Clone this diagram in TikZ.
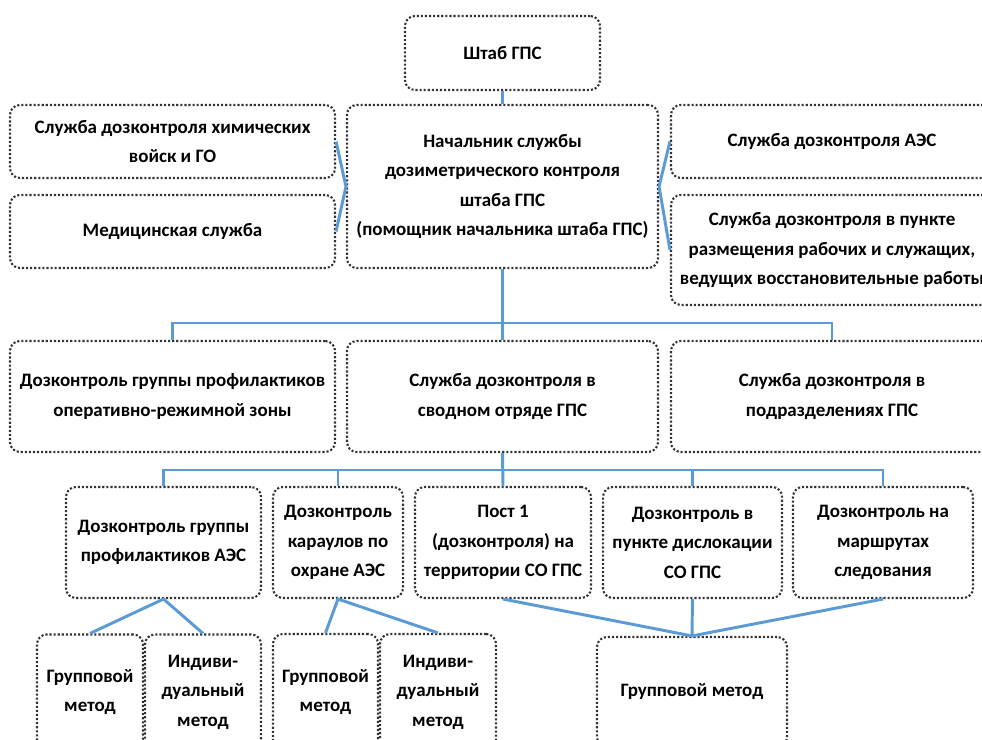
\documentclass[tikz,border=0pt]{standalone}
\usepackage{fontspec}
\setmainfont{Carlito}
\usepackage{tikz}
\usetikzlibrary{positioning}
\definecolor{linkblue}{HTML}{5B9BD5}
\colorlet{dotgray}{black!80}

\tikzset{
  box/.style={draw=dotgray, line width=1.5pt, dash pattern=on 1.5pt off 1.4pt,
    rounded corners=7pt, align=center, inner sep=0pt,
    font=\fontsize{13.5}{21}\selectfont\bfseries},
  wh/.style 2 args={minimum width=#1*0.025cm, minimum height=#2*0.025cm},
  link/.style={draw=linkblue, line width=2.1pt},
}

\begin{document}
\begin{tikzpicture}[x=0.025cm, y=-0.025cm]
    \useasboundingbox (0,0) rectangle (982,740);
    \clip (0,0) rectangle (982,740);

    \node[box, wh={195}{74}] (shtab) at (502.5, 53) {Штаб ГПС};
    \node[box, wh={311}{163}] (chief) at (502.5, 186.5)
      {Начальник службы\\дозиметрического контроля\\штаба ГПС\\(помощник начальника штаба ГПС)};
    \node[box, wh={325}{73}] (chem) at (172.5, 141.5) {Служба дозконтроля химических\\войск и ГО};
    \node[box, wh={325}{73}] (med) at (172.5, 231.5) {Медицинская служба};
    \node[box, wh={322}{73}] (aes) at (832, 141.5) {Служба дозконтроля АЭС};
    \node[box, wh={322}{110}] (point) at (832, 250)
      {Служба дозконтроля в пункте\\размещения рабочих и служащих,\\ведущих восстановительные работы};

    \node[box, wh={325}{111}] (zone) at (172.5, 396.5) {Дозконтроль группы профилактиков\\оперативно-режимной зоны};
    \node[box, wh={311}{111}] (squad) at (502.5, 396.5) {Служба дозконтроля в\\сводном отряде ГПС};
    \node[box, wh={322}{111}] (units) at (832, 396.5) {Служба дозконтроля в\\подразделениях ГПС};

    \node[box, wh={195}{111}] (prof) at (163.5, 542.5) {Дозконтроль группы\\профилактиков АЭС};
    \node[box, wh={130}{111}] (guard) at (338, 542.5) {Дозконтроль\\караулов по\\охране АЭС};
    \node[box, wh={176}{111}] (post) at (503, 542.5) {Пост 1\\(дозконтроля) на\\территории СО ГПС};
    \node[box, wh={179}{111}] (base) at (692.5, 542.5) {Дозконтроль в\\пункте дислокации\\СО ГПС};
    \node[box, wh={180}{111}] (route) at (883, 542.5) {Дозконтроль на\\маршрутах\\следования};

    \node[box, wh={106}{115}] (profgr) at (90, 692) {Групповой\\метод};
    \node[box, wh={116}{115}] (profind) at (203, 692) {Индиви-\\дуальный\\метод};
    \node[box, wh={105}{116}] (guardgr) at (325.5, 692) {Групповой\\метод};
    \node[box, wh={116}{116}] (guardind) at (438, 692) {Индиви-\\дуальный\\метод};
    \node[box, wh={190}{110}] (group) at (692, 692) {Групповой метод};

    \coordinate (bus1) at (502.5, 323);
    \coordinate (bus2) at (502.5, 470);

    \draw[link] (shtab) -- (chief);
    \draw[link] (chem.east) -- (chief.west) -- (med.east);
    \draw[link] (aes.west) -- (chief.east) -- (point.west);

    \draw[link] (chief.south) -- (squad.north);
    \draw[link] (zone.north) |- (bus1) -| (units.north);

    \draw[link] (squad.south) -- (post.north);
    \draw[link] (prof.north) |- (bus2) -| (route.north);
    \draw[link] (guard.north) -- (guard.north |- bus2);
    \draw[link] (base.north) -- (base.north |- bus2);

    \draw[link] (profgr.north) -- (prof.south) -- (profind.north);
    \draw[link] (guardgr.north) -- (guard.south) -- (guardind.north);
    \draw[link] (post.south) -- (group.north);
    \draw[link] (base.south) -- (group.north);
    \draw[link] (route.south) -- (group.north);
\end{tikzpicture}
\end{document}
